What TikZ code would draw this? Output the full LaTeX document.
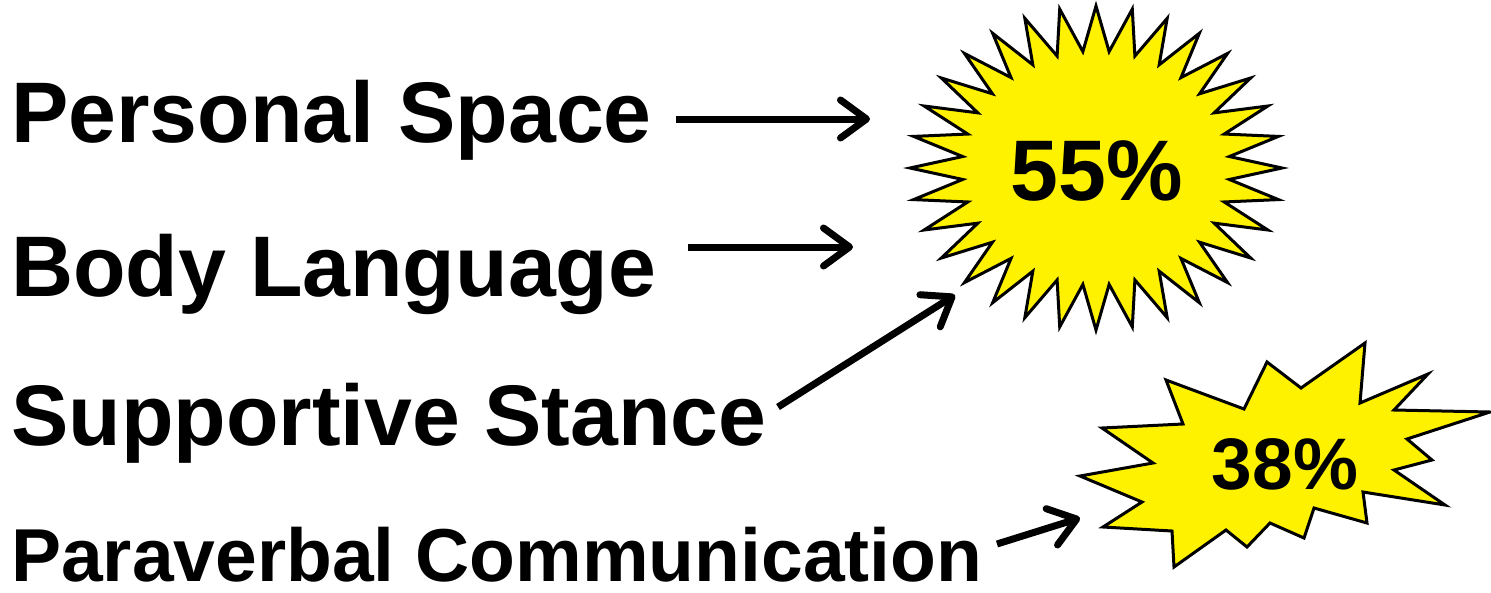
\documentclass[tikz,border=0pt]{standalone}
\usepackage{fontspec}
\setmainfont{Liberation Sans}
\usetikzlibrary{arrows.meta}
\begin{document}
\begin{tikzpicture}[x=1pt,y=-1pt,
  lbl/.style={anchor=base west,inner sep=0pt,text depth=0pt,font=\bfseries\fontsize{86}{100}\selectfont},
  lblsmall/.style={lbl,font=\bfseries\fontsize{75}{90}\selectfont},
  pct/.style={anchor=base,inner sep=0pt,font=\bfseries\fontsize{#1}{100}\selectfont},
  burst/.style={fill=yellow,draw=black,line width=3pt,line join=miter},
  pointer/.style={line width=7pt,-{Straight Barb[length=26pt,width=38pt,round]}}
]
\useasboundingbox (0,0) rectangle (1491,592);

% 32-point starburst
\draw[burst] (1096,6)
  \foreach \k in {1,...,63} {
    -- ({1096+(mod(\k,2)==1 ? 134 : 186)*cos(90+\k*5.625)},
        {168-(mod(\k,2)==1 ? 117 : 162)*sin(90+\k*5.625)})
  } -- cycle;
\node[pct=86] (p55) at (1097,200) {55\%};

% irregular explosion
\draw[burst] (1080,476) -- (1153,463) -- (1102,428) -- (1183,424) -- (1166,380)
  -- (1244,409) -- (1267,362) -- (1301,388) -- (1365,343) -- (1360,403)
  -- (1428,374) -- (1394,410) -- (1490,412) -- (1407,439) -- (1432,460)
  -- (1394,470) -- (1445,505) -- (1363,492) -- (1367,523) -- (1314,508)
  -- (1304,538) -- (1270,523) -- (1247,547) -- (1226,530) -- (1174,567)
  -- (1172,531) -- (1103,527) -- (1142,502) -- cycle;
\node[pct=73] (p38) at (1285,489) {38\%};

% labels
\node[lbl] (ps) at (11,142) {Personal Space};
\node[lbl] (bl) at (11,296) {Body Language};
\node[lbl] (ss) at (11,445) {Supportive Stance};
\node[lblsmall] (pc) at (11,581) {Paraverbal Communication};

% arrow ends
\coordinate (t1) at (676,119); \coordinate (h1) at (870,119);
\coordinate (t2) at (688,247); \coordinate (h2) at (853,247);
\coordinate (t3) at (778,407); \coordinate (h3) at (955,295);
\coordinate (t4) at (997,544); \coordinate (h4) at (1080,518);

\draw[pointer] (t1) -- (h1);
\draw[pointer] (t2) -- (h2);
\draw[pointer] (t3) -- (h3);
\draw[pointer] (t4) -- (h4);
\end{tikzpicture}
\end{document}
